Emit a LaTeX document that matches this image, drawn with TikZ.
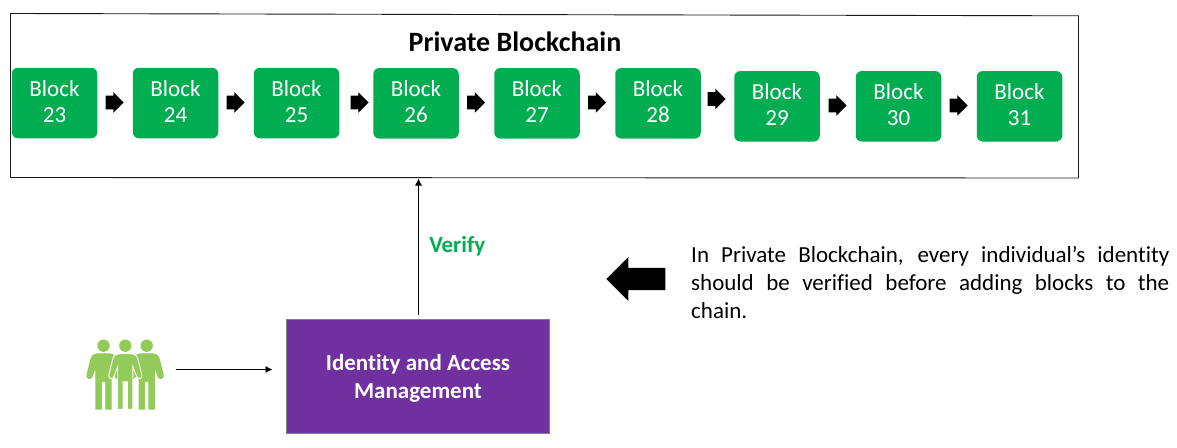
\documentclass[tikz,border=0pt]{standalone}
\usepackage{fontspec}
\setmainfont{Carlito}[Ligatures=NoCommon]
\usetikzlibrary{shapes.arrows,arrows.meta}
\definecolor{blockgreen}{HTML}{00AD50}
\definecolor{iampurple}{HTML}{7030A0}
\definecolor{peoplegreen}{HTML}{92CB5A}
\tikzset{
  x=1pt,y=-1pt,
  blockbox/.style={fill=blockgreen,rounded corners=6pt,text=white,align=center,
    minimum width=85.5pt,minimum height=70.5pt,inner sep=0pt,text depth=3pt,
    font=\fontsize{23}{26}\selectfont},
  linkarrow/.style={single arrow,fill=black,inner xsep=0pt,inner ysep=6.7pt,minimum height=18pt,
    single arrow head extend=3.5pt,single arrow head indent=0pt,anchor=tip},
  bigarrow/.style={single arrow,fill=black,inner xsep=0pt,inner ysep=11pt,minimum height=59pt,
    single arrow head extend=11pt,single arrow head indent=0pt,shape border rotate=180,anchor=tip},
  thinarrow/.style={draw=black,line width=0.9pt,-{Latex[length=7pt,width=7pt]}},
  person/.pic={
    \fill[peoplegreen,draw=#1,line width=0.9pt] (-4,8) -- (4,8)
      .. controls (9,8) and (11.5,9.5) .. (12.5,13) -- (16.5,29)
      .. controls (17.5,33.5) and (12.5,34) .. (11.5,31) -- (7.6,21) -- (7.6,63.5)
      -- (2.2,63.5) -- (2.2,36) -- (-2.2,36) -- (-2.2,63.5) -- (-7.6,63.5) -- (-7.6,21)
      -- (-11.5,31) .. controls (-12.5,34) and (-17.5,33.5) .. (-16.5,29) -- (-12.5,13)
      .. controls (-11.5,9.5) and (-9,8) .. (-4,8) -- cycle;
    \fill[peoplegreen] (0,0) circle (6.2pt);
  }
}
\begin{document}
\begin{tikzpicture}
\useasboundingbox (0,0) rectangle (1177,447);
% frame
\coordinate (ftl) at (10.5,13.5);
\coordinate (ftr) at (1078.5,15.8);
\coordinate (fbr) at (1078.5,178);
\coordinate (fbl) at (10.5,177.5);
\draw[line width=0.9pt,black!90] (ftl) -- (ftr) -- (fbr) -- (fbl) -- cycle;
\node[anchor=base,inner sep=0pt,font=\bfseries\fontsize{28}{32}\selectfont] (title) at (515,51.7) {Private Blockchain};
% blocks
\node[blockbox] (b23) at (54.5,103) {Block\\23};
\node[blockbox] (b24) at (175.5,103) {Block\\24};
\node[blockbox] (b25) at (296.5,103) {Block\\25};
\node[blockbox] (b26) at (416,103.3) {Block\\26};
\node[blockbox] (b27) at (537,103.3) {Block\\27};
\node[blockbox] (b28) at (658,103.3) {Block\\28};
\node[blockbox] (b29) at (777,106.3) {Block\\29};
\node[blockbox] (b30) at (898.5,106.3) {Block\\30};
\node[blockbox] (b31) at (1019.5,106.3) {Block\\31};
% link arrows
\node[linkarrow] (a1) at (124,102.5) {};
\node[linkarrow] (a2) at (245,102.5) {};
\node[linkarrow] (a3) at (369,102.5) {};
\node[linkarrow] (a4) at (485.5,102.5) {};
\node[linkarrow] (a5) at (606.5,102.5) {};
\node[linkarrow] (a6) at (726,99) {};
\node[linkarrow] (a7) at (847,105.5) {};
\node[linkarrow] (a8) at (968,105.5) {};
% IAM
\node[draw=black!50,line width=0.9pt,fill=iampurple,text=white,align=center,
  minimum width=262.5pt,minimum height=114pt,inner sep=0pt,text depth=0pt,
  font=\bfseries\fontsize{23}{28}\selectfont] (iam) at (418,376) {Identity and Access\\Management};
% people
\path (103.5,345.7) pic {person=peoplegreen};
\path (146.7,345.7) pic {person=peoplegreen};
\path (125.3,345.7) pic {person=white};
\coordinate (peopleout) at (176,369.5);
\coordinate (iamin) at (272.5,369.5);
\draw[thinarrow] (peopleout) -- (iamin);
% verify
\coordinate (vstart) at (418.5,314.5);
\coordinate (vend) at (418.5,178.5);
\draw[thinarrow] (vstart) -- (vend);
\node[anchor=base,inner sep=0pt,text=blockgreen,font=\bfseries\fontsize{23}{25}\selectfont] (verify) at (457.3,252.5) {Verify};
% big arrow
\node[bigarrow] (big) at (606,279) {};
% note
\node[anchor=north west,inner sep=0pt,text width=478pt,align=justify,
  font=\fontsize{23}{27.7}\selectfont] (note) at (691,246.5)
  {In Private Blockchain, every individual’s identity\linebreak should be verified before adding blocks to the\linebreak chain.};
\end{tikzpicture}
\end{document}
